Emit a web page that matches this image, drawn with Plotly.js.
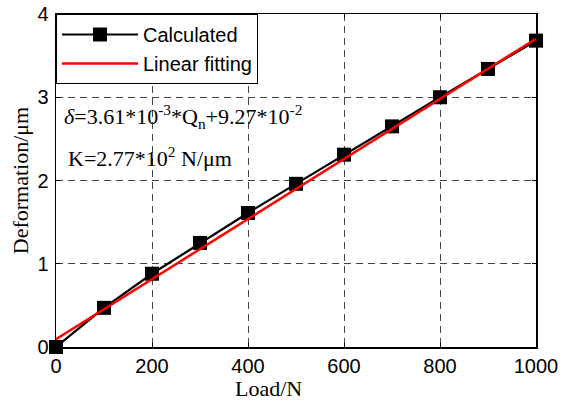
<!DOCTYPE html>
<html><head><meta charset="utf-8">
<script src="https://cdn.plot.ly/plotly-3.0.1.min.js"></script>
<style>body{margin:0;background:#fff}#c{width:571px;height:401px}</style>
</head><body><div id="c"></div>
<script>
const load = [0,100,200,300,400,500,600,700,800,900,1000];
const calculated = [0,0.47,0.88,1.25,1.61,1.96,2.31,2.65,3.0,3.34,3.68];
const fitLoad = [0,1000];
const fitValues = [0.0927,3.7027];
const xTicks = [0,200,400,600,800,1000];
const yTicks = [0,1,2,3,4];

const traces = [
  {x:load,y:calculated,name:'Calculated',mode:'lines+markers',type:'scatter',cliponaxis:false,
   line:{color:'#000',width:2.2},marker:{symbol:'square',size:14,color:'#000'}},
  {x:fitLoad,y:fitValues,name:'Linear fitting',mode:'lines',type:'scatter',cliponaxis:false,
   line:{color:'#ff0000',width:2.5}}
];
const axisCommon = {showline:true,linecolor:'#000',linewidth:1.5,mirror:'ticks',
  ticks:'inside',ticklen:4,tickcolor:'#000',showgrid:true,gridcolor:'#444',
  griddash:'7px,5px',gridwidth:1,zeroline:false,
  tickfont:{family:'Arial, Liberation Sans',size:20,color:'#000'}};
const serif = 'Liberation Serif, Times New Roman';
const layout = {
  width:571,height:401,margin:{l:56,r:35,t:14,b:54},
  paper_bgcolor:'#fff',plot_bgcolor:'#fff',showlegend:true,
  xaxis:Object.assign({},axisCommon,{range:[0,1000],tickvals:xTicks,ticklabelstandoff:0}),
  yaxis:Object.assign({},axisCommon,{range:[0,4],tickvals:yTicks,ticklabelstandoff:2,
    title:{text:'Deformation/μm',font:{family:serif,size:22,color:'#000'},standoff:2}}),
  legend:{x:0,y:1,xanchor:'left',yanchor:'top',bgcolor:'#fff',bordercolor:'#000',borderwidth:1,
    font:{family:'Arial, Liberation Sans',size:20,color:'#000'},itemwidth:76,tracegroupgap:0},
  annotations:[
    {xref:'paper',yref:'paper',x:0.442,y:-0.125,xanchor:'center',yanchor:'middle',showarrow:false,
     text:'Load/N',font:{family:serif,size:22,color:'#000'}},
    {xref:'x',yref:'y',x:12,y:2.77,xanchor:'left',yanchor:'middle',showarrow:false,
     text:'<i>δ</i>=3.61*10<sup>-3</sup>*Q<sub>n</sub>+9.27*10<sup>-2</sup>',
     font:{family:serif,size:22,color:'#000'}},
    {xref:'x',yref:'y',x:20,y:2.28,xanchor:'left',yanchor:'middle',showarrow:false,
     text:'K=2.77*10<sup>2</sup> N/μm',
     font:{family:serif,size:22,color:'#000'}}
  ]
};
Plotly.newPlot('c',traces,layout,{displayModeBar:false,staticPlot:true});
</script></body></html>
